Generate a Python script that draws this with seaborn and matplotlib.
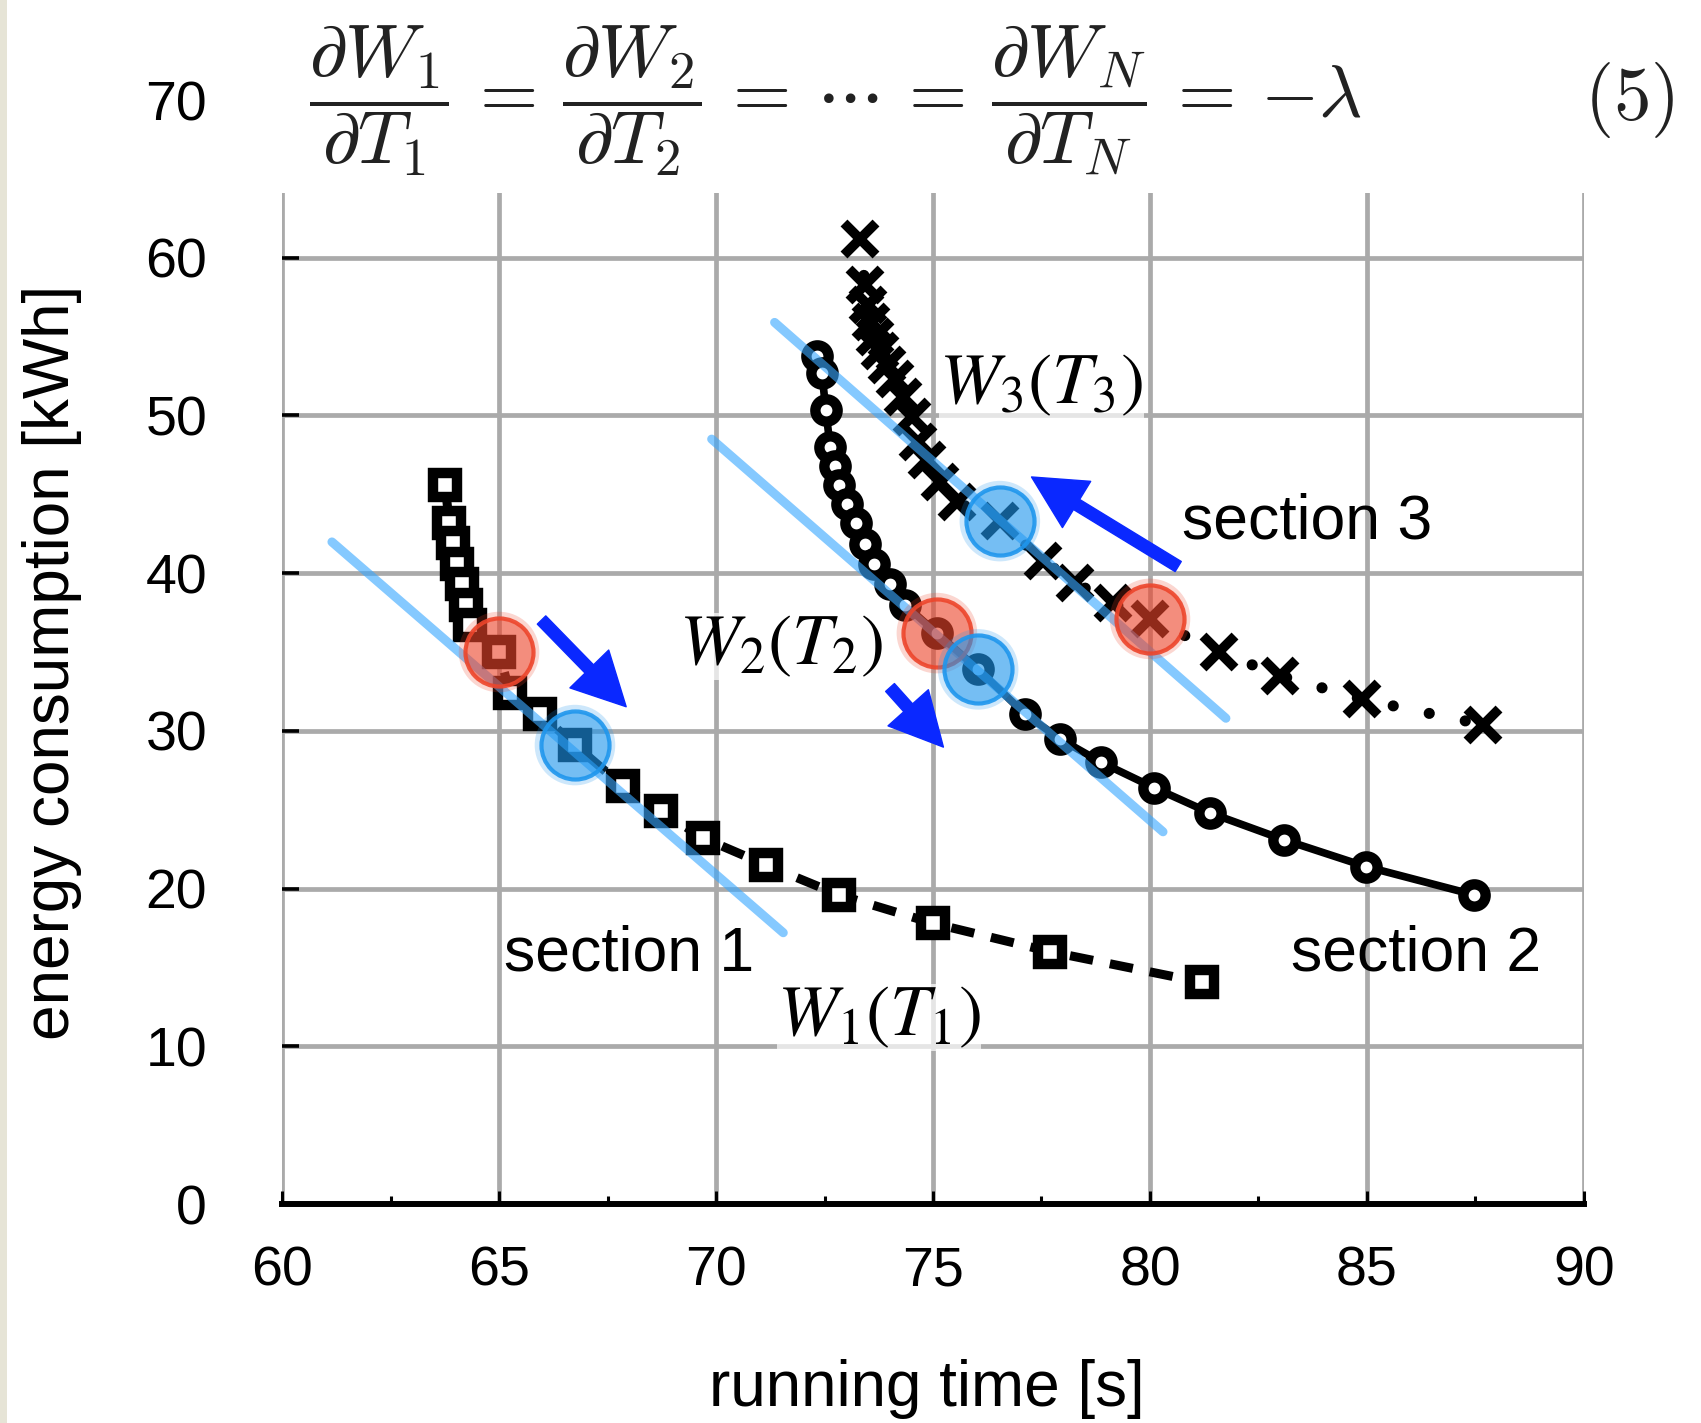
import numpy as np
import pandas as pd
import matplotlib
matplotlib.use("Agg")
import matplotlib.pyplot as plt
import seaborn as sns
from matplotlib.patches import FancyArrowPatch, Rectangle
from matplotlib.ticker import MultipleLocator

# ---------------- data ----------------
sec1_T = [63.76, 63.85, 63.95, 64.04, 64.14, 64.24, 64.33, 65.0, 65.25, 65.94, 66.75,
          67.85, 68.73, 69.71, 71.15, 72.83, 75.0, 77.7, 81.2]
sec1_W = [45.6, 43.2, 41.9, 40.6, 39.3, 38.0, 36.7, 35.0, 32.4, 31.1, 29.1,
          26.5, 24.9, 23.2, 21.5, 19.6, 17.8, 16.0, 14.05]

sec2_T = [72.32, 72.44, 72.53, 72.63, 72.74, 72.84, 73.01, 73.23, 73.43, 73.65, 74.01,
          74.35, 75.09, 76.04, 77.11, 77.92, 78.88, 80.09, 81.38, 83.08, 84.97, 87.47]
sec2_W = [53.8, 52.7, 50.35, 48.0, 46.8, 45.6, 44.4, 43.15, 41.85, 40.55, 39.3,
          38.0, 36.2, 33.9, 31.1, 29.5, 28.0, 26.4, 24.8, 23.1, 21.4, 19.6]

sec3_T = [73.32, 73.43, 73.5, 73.58, 73.66, 73.78, 73.94, 74.12, 74.31, 74.52, 74.65,
          74.86, 75.16, 75.55, 76.54, 77.53, 78.27, 79.15, 80.0, 81.59, 83.0, 84.88, 87.67]
sec3_W = [61.2, 58.3, 57.0, 55.9, 55.0, 54.1, 53.2, 52.3, 51.2, 49.9, 48.3,
          47.2, 45.8, 44.5, 43.3, 40.8, 39.4, 38.1, 37.1, 35.0, 33.5, 32.0, 30.4]

# tangent lines (slope -lambda), start / end points
tangent_T0 = [61.15, 69.9, 71.35]
tangent_W0 = [41.98, 48.5, 55.9]
tangent_T1 = [71.55, 80.3, 81.75]
tangent_W1 = [17.2, 23.6, 30.8]

# initial (red) and optimal (blue) operating points
start_T = [65.0, 75.09, 80.0]
start_W = [35.0, 36.2, 37.1]
opt_T = [66.75, 76.04, 76.54]
opt_W = [29.1, 33.9, 43.3]

# arrows (tail -> head)
arrow_T0 = [65.98, 74.01, 80.65]
arrow_W0 = [37.03, 32.75, 40.42]
arrow_T1 = [67.93, 75.24, 77.27]
arrow_W1 = [31.53, 28.97, 46.1]

x_ticks = [60, 65, 70, 75, 80, 85, 90]
y_ticks = [0, 10, 20, 30, 40, 50, 60, 70]

# ---------------- style ----------------
sns.set_style("white")
plt.rcParams["font.family"] = ["Liberation Sans", "DejaVu Sans"]
plt.rcParams["text.color"] = "black"
plt.rcParams["axes.labelcolor"] = "black"
plt.rcParams["xtick.color"] = "black"
plt.rcParams["ytick.color"] = "black"

fig = plt.figure(figsize=(17.01, 14.23), dpi=100)
fig.patch.set_facecolor("white")
fig.patches.append(Rectangle((0, 0), 7 / 1701, 1, transform=fig.transFigure,
                             facecolor="#e6e4d6", edgecolor="none", zorder=0))

ax = fig.add_axes([0.1658, 0.1539, 0.7654, 0.7758])
ax.set_xlim(60, 90)
ax.set_ylim(0, 70)
ax.set_xticks(x_ticks)
ax.set_yticks(y_ticks)
ax.xaxis.set_minor_locator(MultipleLocator(2.5))
ax.set_axisbelow(True)
ax.grid(True, which="major", color="#aaaaaa", lw=3.4)

for s in ["top", "right", "left"]:
    ax.spines[s].set_visible(False)
ax.spines["bottom"].set_color("black")
ax.spines["bottom"].set_linewidth(4.3)
ax.spines["bottom"].set_capstyle("projecting")

ax.tick_params(axis="x", which="both", bottom=True, top=False)
ax.tick_params(axis="y", which="both", left=True, right=False)
ax.tick_params(axis="x", which="major", direction="in", length=9.5, width=2.2,
               color="black", labelcolor="black", labelsize=40, pad=30)
ax.tick_params(axis="x", which="minor", direction="in", length=5.8, width=2.2,
               color="black")
ax.tick_params(axis="y", which="major", direction="in", length=12, width=2.6,
               color="black", labelcolor="black", labelsize=40, pad=54)

# hide grid above ~64
ax.add_patch(Rectangle((59.0, 64.1), 32, 7, facecolor="white", edgecolor="none",
                       zorder=1, clip_on=False))

# ---------------- curves ----------------
sns.lineplot(x=sec1_T, y=sec1_W, ax=ax, sort=False, estimator=None, color="black",
             lw=6.5, linestyle=(0, (2.6, 1.9)), marker="s", markersize=17,
             markeredgewidth=7.5, markerfacecolor="white", markeredgecolor="black",
             zorder=3)
sns.lineplot(x=sec2_T, y=sec2_W, ax=ax, sort=False, estimator=None, color="black",
             lw=5.5, linestyle="-", marker="o", markersize=16,
             markeredgewidth=7.5, markerfacecolor="white", markeredgecolor="black",
             zorder=3)
sns.lineplot(x=sec3_T, y=sec3_W, ax=ax, sort=False, estimator=None, color="black",
             lw=8, linestyle=(0, (0.01, 3.3)), dash_capstyle="round", marker="x",
             markersize=23, markeredgewidth=7, markeredgecolor="black",
             zorder=3)

# tangent lines
tan_df = pd.DataFrame({
    "sec": [1, 1, 2, 2, 3, 3],
    "T": [tangent_T0[0], tangent_T1[0], tangent_T0[1], tangent_T1[1], tangent_T0[2], tangent_T1[2]],
    "W": [tangent_W0[0], tangent_W1[0], tangent_W0[1], tangent_W1[1], tangent_W0[2], tangent_W1[2]],
})
sns.lineplot(data=tan_df, x="T", y="W", units="sec", estimator=None, sort=False, ax=ax,
             color="#3aa8ff", alpha=0.62, lw=6.5, zorder=4)

# red / blue operating points (fuzzy discs)
red = (0.93, 0.27, 0.17)
blue = (0.12, 0.59, 0.93)
for (xs, ys, c) in [(start_T, start_W, red), (opt_T, opt_W, blue)]:
    sns.scatterplot(x=xs, y=ys, ax=ax, s=58 ** 2, color=(*c, 0.22), edgecolor="none",
                    linewidth=0, zorder=5)
    sns.scatterplot(x=xs, y=ys, ax=ax, s=49 ** 2, color=(*c, 0.5),
                    edgecolor=(*c, 0.9), linewidth=3, zorder=5)

# arrows
for t0, w0, t1, w1 in zip(arrow_T0, arrow_W0, arrow_T1, arrow_W1):
    ax.add_patch(FancyArrowPatch((t0, w0), (t1, w1),
                                 arrowstyle="simple,head_length=38,head_width=39,tail_width=8.5",
                                 mutation_scale=1, color="#0a28ff", shrinkA=0, shrinkB=0,
                                 zorder=6))

# ---------------- texts ----------------
lab_box = dict(facecolor="white", edgecolor="none", alpha=0.7, pad=0)
ax.text(77.5, 50.8, r"$W_3(T_3)$", fontsize=52, math_fontfamily="stix",
        ha="center", va="baseline", bbox=lab_box, zorder=2)
ax.text(71.5, 34.2, r"$W_2(T_2)$", fontsize=52, math_fontfamily="stix",
        ha="center", va="baseline", bbox=lab_box, zorder=2)
ax.text(73.75, 10.67, r"$W_1(T_1)$", fontsize=52, math_fontfamily="stix",
        ha="center", va="baseline", bbox=lab_box, zorder=2)

ax.text(68.0, 14.8, "section 1", fontsize=45, ha="center", va="baseline", zorder=7)
ax.text(86.13, 14.8, "section 2", fontsize=45, ha="center", va="baseline", zorder=7)
ax.text(83.63, 42.2, "section 3", fontsize=45, ha="center", va="baseline", zorder=7)

ax.text(72.75, 70.0,
        r"$\dfrac{\partial W_1}{\partial T_1} \,=\, \dfrac{\partial W_2}{\partial T_2} \,=\, \cdots \,=\, \dfrac{\partial W_N}{\partial T_N} \,=\, {-}\lambda$",
        fontsize=54, math_fontfamily="cm", color="#222222", ha="center", va="center",
        zorder=3, clip_on=False)
ax.text(91.05, 70.0, r"$(5)$", fontsize=54, math_fontfamily="cm", color="#222222",
        ha="center", va="center", zorder=3, clip_on=False)

ax.set_xlabel("running time [s]", fontsize=46)
ax.set_ylabel("energy consumption [kWh]", fontsize=46)
ax.xaxis.set_label_coords(0.495, -0.1405)
ax.yaxis.set_label_coords(-0.1536, 0.491)

fig.savefig("out.png", dpi=100)
